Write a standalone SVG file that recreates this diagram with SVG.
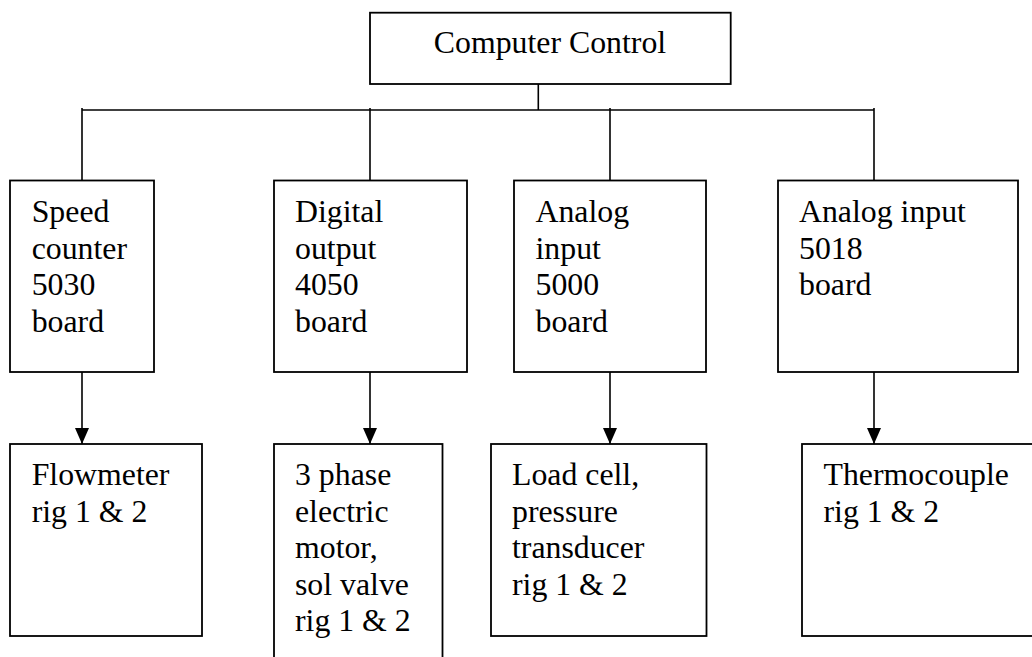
<svg xmlns="http://www.w3.org/2000/svg" width="1032" height="657" viewBox="0 0 1032 657">
  <style>
    .box { fill: #ffffff; stroke: #000000; stroke-width: 1.8; }
    .wire { fill: none; stroke: #000000; stroke-width: 1.6; }
    text { font-size: 31.8px; fill: #000000; }
  </style>
  <defs>
    <marker id="arrow" viewBox="0 0 16 14" markerWidth="16" markerHeight="14" refX="16" refY="7" orient="auto" markerUnits="userSpaceOnUse">
      <path d="M0,0 L16,7 L0,14 Z" fill="#000000"/>
    </marker>
  </defs>
  <rect width="1032" height="657" fill="#ffffff"/>

  <!-- connectors -->
  <g id="connectors">
    <path class="wire" d="M538.3,84 V110"/>
    <path class="wire" d="M82,110 H874"/>
    <path class="wire" d="M82,108 V180.5"/>
    <path class="wire" d="M370,108 V180.5"/>
    <path class="wire" d="M610,108 V180.5"/>
    <path class="wire" d="M874,108 V180.5"/>
    <path class="wire" d="M82,372 V444" marker-end="url(#arrow)"/>
    <path class="wire" d="M370,372 V444" marker-end="url(#arrow)"/>
    <path class="wire" d="M610,372 V444" marker-end="url(#arrow)"/>
    <path class="wire" d="M874,372 V444" marker-end="url(#arrow)"/>
  </g>

  <g font-family="'Liberation Serif', 'Times New Roman', serif">
    <!-- top level -->
    <g id="computer-control">
      <rect class="box" x="370" y="12.7" width="360.7" height="71.3"/>
      <text x="550" y="53.3" text-anchor="middle">Computer Control</text>
    </g>

    <!-- interface boards -->
    <g id="speed-counter">
      <rect class="box" x="10" y="180.5" width="144" height="191.5"/>
      <text x="31.7" y="222"><tspan x="31.7">Speed</tspan><tspan x="31.7" dy="36.6">counter</tspan><tspan x="31.7" dy="36.6">5030</tspan><tspan x="31.7" dy="36.6">board</tspan></text>
    </g>
    <g id="digital-output">
      <rect class="box" x="274" y="180.5" width="193" height="191.5"/>
      <text x="295" y="222"><tspan x="295">Digital</tspan><tspan x="295" dy="36.6">output</tspan><tspan x="295" dy="36.6">4050</tspan><tspan x="295" dy="36.6">board</tspan></text>
    </g>
    <g id="analog-input-5000">
      <rect class="box" x="514" y="180.5" width="192" height="191.5"/>
      <text x="535.5" y="222"><tspan x="535.5">Analog</tspan><tspan x="535.5" dy="36.6">input</tspan><tspan x="535.5" dy="36.6">5000</tspan><tspan x="535.5" dy="36.6">board</tspan></text>
    </g>
    <g id="analog-input-5018">
      <rect class="box" x="778" y="180.5" width="240" height="191.5"/>
      <text x="799" y="222"><tspan x="799">Analog input</tspan><tspan x="799" dy="36.6">5018</tspan><tspan x="799" dy="36.6">board</tspan></text>
    </g>

    <!-- field devices -->
    <g id="flowmeter">
      <rect class="box" x="10" y="444" width="192" height="192"/>
      <text x="31.7" y="485"><tspan x="31.7">Flowmeter</tspan><tspan x="31.7" dy="36.6">rig 1 &amp; 2</tspan></text>
    </g>
    <g id="motor-valve">
      <rect class="box" x="274" y="444" width="168.5" height="240"/>
      <text x="295" y="485"><tspan x="295">3 phase</tspan><tspan x="295" dy="36.6">electric</tspan><tspan x="295" dy="36.6">motor,</tspan><tspan x="295" dy="36.6">sol valve</tspan><tspan x="295" dy="36.6">rig 1 &amp; 2</tspan></text>
    </g>
    <g id="load-cell">
      <rect class="box" x="491" y="444" width="215.5" height="192"/>
      <text x="512" y="485"><tspan x="512">Load cell,</tspan><tspan x="512" dy="36.6">pressure</tspan><tspan x="512" dy="36.6">transducer</tspan><tspan x="512" dy="36.6">rig 1 &amp; 2</tspan></text>
    </g>
    <g id="thermocouple">
      <rect class="box" x="802" y="444" width="250" height="192"/>
      <text x="823.5" y="485"><tspan x="823.5">Thermocouple</tspan><tspan x="823.5" dy="36.6">rig 1 &amp; 2</tspan></text>
    </g>
  </g>
</svg>
